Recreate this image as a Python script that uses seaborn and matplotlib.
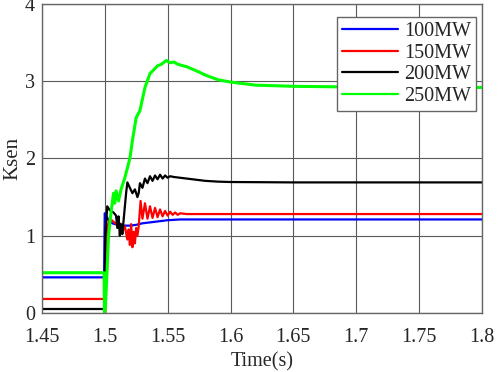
import pandas as pd
import seaborn as sns
import matplotlib
matplotlib.use("Agg")
import matplotlib.pyplot as plt

# Ksen curves, (time, value) per load level
t_100 = [1.45, 1.4995, 1.5, 1.5015, 1.503, 1.506, 1.51, 1.515, 1.52, 1.525, 1.53, 1.54, 1.55, 1.56, 1.6, 1.8]
k_100 = [0.46, 0.46, 1.29, 1.25, 1.20, 1.16, 1.14, 1.13, 1.13, 1.14, 1.16, 1.18, 1.20, 1.21, 1.21, 1.21]

t_150 = [1.45, 1.4995, 1.4998, 1.5005, 1.501, 1.502, 1.504, 1.507, 1.51, 1.512, 1.514, 1.516, 1.518,
         1.519, 1.52, 1.521, 1.522, 1.523, 1.524, 1.525, 1.526, 1.527, 1.5285, 1.53, 1.532, 1.534,
         1.536, 1.538, 1.54, 1.542, 1.544, 1.546, 1.548, 1.55, 1.552, 1.554, 1.556, 1.558, 1.56,
         1.565, 1.6, 1.8]
k_150 = [0.18, 0.18, 0.0, 0.0, 0.6, 1.1, 1.22, 1.18, 1.14, 1.16, 1.05, 1.12, 0.95, 1.08, 0.88, 1.15,
         0.85, 1.05, 0.9, 1.1, 1.0, 1.12, 1.45, 1.22, 1.42, 1.22, 1.38, 1.23, 1.36, 1.24, 1.34, 1.25,
         1.32, 1.26, 1.31, 1.27, 1.30, 1.27, 1.29, 1.28, 1.28, 1.28]

t_200 = [1.45, 1.4995, 1.5, 1.5005, 1.502, 1.504, 1.507, 1.509, 1.51, 1.511, 1.512, 1.513, 1.514,
         1.515, 1.517, 1.518, 1.52, 1.522, 1.524, 1.526, 1.527, 1.528, 1.53, 1.532, 1.534, 1.536,
         1.538, 1.54, 1.542, 1.544, 1.546, 1.548, 1.55, 1.552, 1.555, 1.56, 1.57, 1.58, 1.59, 1.6,
         1.65, 1.8]
k_200 = [0.05, 0.05, 0.05, 1.0, 1.38, 1.33, 1.3, 1.26, 1.1, 1.25, 1.0, 1.15, 1.02, 1.2, 1.55, 1.69,
         1.62, 1.55, 1.6, 1.5, 1.55, 1.68, 1.62, 1.74, 1.68, 1.77, 1.71, 1.78, 1.73, 1.79, 1.74, 1.78,
         1.75, 1.77, 1.76, 1.75, 1.73, 1.71, 1.70, 1.695, 1.69, 1.69]

t_250 = [1.45, 1.4995, 1.4998, 1.5005, 1.502, 1.503, 1.505, 1.507, 1.508, 1.509, 1.511, 1.513,
         1.516, 1.52, 1.522, 1.525, 1.528, 1.532, 1.536, 1.539, 1.542, 1.545, 1.549, 1.552, 1.555,
         1.558, 1.565, 1.575, 1.58, 1.59, 1.6, 1.62, 1.65, 1.7, 1.8]
k_250 = [0.52, 0.52, 0.0, 0.05, 0.6, 1.0, 1.3, 1.55, 1.42, 1.58, 1.45, 1.6, 1.75, 2.0, 2.23, 2.53,
         2.62, 2.92, 3.1, 3.15, 3.2, 3.22, 3.27, 3.24, 3.25, 3.22, 3.19, 3.12, 3.08, 3.02, 2.99, 2.95,
         2.935, 2.925, 2.92]

labels = ["100MW", "150MW", "200MW", "250MW"]
colors = ["#0000ff", "#ff0000", "#000000", "#00ff00"]

frames = []
for lab, t, k in zip(labels, [t_100, t_150, t_200, t_250], [k_100, k_150, k_200, k_250]):
    frames.append(pd.DataFrame({"Time": t, "Ksen": k, "Load": lab}))
df = pd.concat(frames, ignore_index=True)

sns.set_style("white")
plt.rcParams["font.family"] = ["Liberation Serif", "DejaVu Serif"]

fig = plt.figure(figsize=(4.98, 3.72), dpi=100)
ax = fig.add_axes([0.084, 0.159, 0.884, 0.83])

sns.lineplot(data=df, x="Time", y="Ksen", hue="Load", palette=colors,
             estimator=None, sort=False, linewidth=1.6, ax=ax)
# green line is a touch heavier in the original
ax.get_lines()[3].set_linewidth(2.2)

ax.set_xlim(1.45, 1.8)
ax.set_ylim(0, 4)
ax.set_xticks([1.45, 1.5, 1.55, 1.6, 1.65, 1.7, 1.75, 1.8])
ax.set_xticklabels(["1.45", "1.5", "1.55", "1.6", "1.65", "1.7", "1.75", "1.8"])
ax.set_yticks([0, 1, 2, 3, 4])
ax.grid(True, color="0.35", linewidth=0.8)
ax.tick_params(labelsize=14.5, length=0)
ax.tick_params(axis="x", pad=11)
ax.tick_params(axis="y", pad=5)
for s in ax.spines.values():
    s.set_color("0.4")
    s.set_linewidth(1.0)
ax.set_xlabel("Time(s)", fontsize=14.5, labelpad=4)
ax.set_ylabel("Ksen", fontsize=15, labelpad=2)

leg = ax.legend(loc="upper right", bbox_to_anchor=(0.986, 0.958), fontsize=14.5,
                fancybox=False, framealpha=1, edgecolor="0.4", handlelength=2.75,
                borderpad=0.25, labelspacing=0.12, handletextpad=0.3, borderaxespad=0)
leg.get_frame().set_linewidth(1.0)
for h in leg.get_lines():
    h.set_linewidth(1.6)

fig.savefig("out.png", dpi=100)
